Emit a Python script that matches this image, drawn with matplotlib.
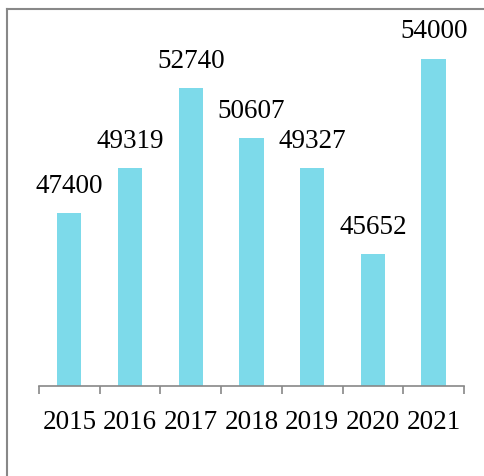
import matplotlib.pyplot as plt
from matplotlib.lines import Line2D

years = ['2015', '2016', '2017', '2018', '2019', '2020', '2021']
values = [47400, 49319, 52740, 50607, 49327, 45652, 54000]

W, H = 485, 477
fig = plt.figure(figsize=(W / 100, H / 100), dpi=100)
ax = fig.add_axes([39 / W, (H - 387) / H, (464 - 39) / W, (387 - 9.5) / H])

x = range(len(years))
bars = ax.bar(x, values, width=0.4, color='#7DDAEA')
ax.bar_label(bars, labels=[str(v) for v in values], padding=11,
             fontsize=19.5, family='Liberation Serif')

ax.set_ylim(40000, 56150)
ax.set_xlim(-0.5, len(years) - 0.5)
ax.set_xticks(list(x))
ax.set_xticklabels(years, fontsize=19.5, family='Liberation Serif')
ax.set_xticks([i - 0.5 for i in range(len(years) + 1)], minor=True)
ax.tick_params(axis='x', which='major', length=0, pad=16.5)
ax.tick_params(axis='x', which='minor', length=5.5, width=1.2, color='#888888', direction='out')
ax.set_yticks([])
for s in ['left', 'right', 'top']:
    ax.spines[s].set_visible(False)
ax.spines['bottom'].set_color('#888888')
ax.spines['bottom'].set_linewidth(1.2)

# outer frame (left and top edges)
fig.add_artist(Line2D([7 / W, 7 / W], [0, 1 - 10 / H], color='#888888', lw=1.5, transform=fig.transFigure))
fig.add_artist(Line2D([7 / W, 1], [1 - 10 / H, 1 - 10 / H], color='#888888', lw=1.5, transform=fig.transFigure))

fig.savefig('out.png', dpi=100)
